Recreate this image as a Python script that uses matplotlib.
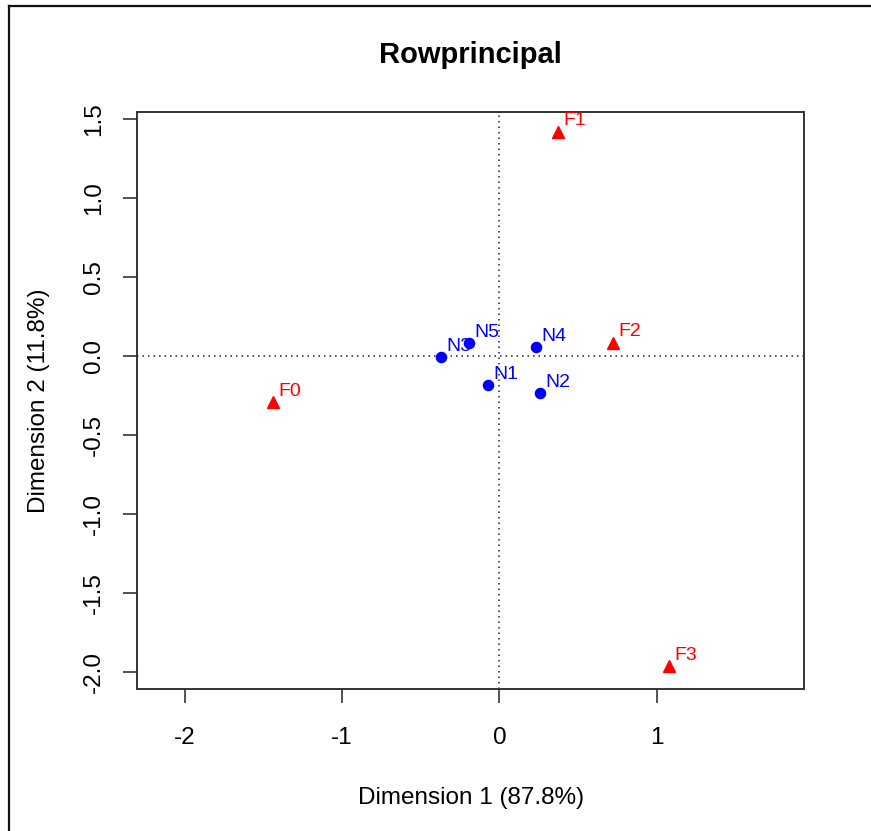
import matplotlib
matplotlib.use("Agg")
import matplotlib.pyplot as plt
from matplotlib.lines import Line2D

plt.rcParams['font.family'] = ['Liberation Sans', 'DejaVu Sans']

# row points (blue) and column points (red), principal coordinates
row_labels = ["N1", "N2", "N3", "N4", "N5"]
row_dim1 = [-0.071, 0.258, -0.373, 0.234, -0.195]
row_dim2 = [-0.186, -0.236, -0.008, 0.057, 0.080]

col_labels = ["F0", "F1", "F2", "F3"]
col_dim1 = [-1.440, 0.370, 0.720, 1.079]
col_dim2 = [-0.290, 1.421, 0.084, -1.963]

x_ticks = [-2, -1, 0, 1]
y_ticks = [-2.0, -1.5, -1.0, -0.5, 0.0, 0.5, 1.0, 1.5]

W, H = 871, 831
fig = plt.figure(figsize=(W / 100, H / 100), dpi=100)
ax = fig.add_axes([137.3 / W, 1 - 689 / H, (804.3 - 137.3) / W, (689 - 112) / H])

ax.axhline(0, color="#222222", lw=1.1, ls=(0, (1, 2.6)), zorder=1)
ax.axvline(0, color="#222222", lw=1.1, ls=(0, (1, 2.6)), zorder=1)

ax.plot(row_dim1, row_dim2, "o", color="#0000FF", ms=7.3, ls="none", zorder=3)
ax.plot(col_dim1, col_dim2, "^", color="#FF0000", ms=9, ls="none", zorder=3)

for lab, x, y in zip(row_labels, row_dim1, row_dim2):
    ax.annotate(lab, (x, y), xytext=(4.0, 4.5), textcoords="offset points",
                color="#0000FF", fontsize=14, ha="left", va="baseline")
for lab, x, y in zip(col_labels, col_dim1, col_dim2):
    ax.annotate(lab, (x, y), xytext=(4.0, 4.5), textcoords="offset points",
                color="#FF0000", fontsize=14, ha="left", va="baseline")

ax.set_xlim(-2.30, 1.937)
ax.set_ylim(-2.110, 1.546)

ax.set_xticks(x_ticks)
ax.set_xticklabels([str(t) for t in x_ticks])
ax.set_yticks(y_ticks)
ax.set_yticklabels([f"{t:.1f}" for t in y_ticks], rotation=90, va="center")
ax.tick_params(axis="both", direction="out", length=10, width=1.2,
               color="#333333", labelsize=17.5)
ax.tick_params(axis="x", pad=17)
ax.tick_params(axis="y", pad=13)

for sp in ax.spines.values():
    sp.set_color("#333333")
    sp.set_linewidth(1.4)

ax.set_title("Rowprincipal", fontsize=21, fontweight="bold", pad=35)
ax.set_xlabel("Dimension 1 (87.8%)", fontsize=17.5, labelpad=28)
ax.set_ylabel("Dimension 2 (11.8%)", fontsize=17.5, labelpad=24)

# outer frame lines (top and left)
fig.add_artist(Line2D([9 / W, 1], [1 - 6 / H, 1 - 6 / H], color="#111111", lw=1.6,
                      transform=fig.transFigure))
fig.add_artist(Line2D([9 / W, 9 / W], [0, 1 - 6 / H], color="#111111", lw=1.6,
                      transform=fig.transFigure))

fig.savefig("out.png", dpi=100)
